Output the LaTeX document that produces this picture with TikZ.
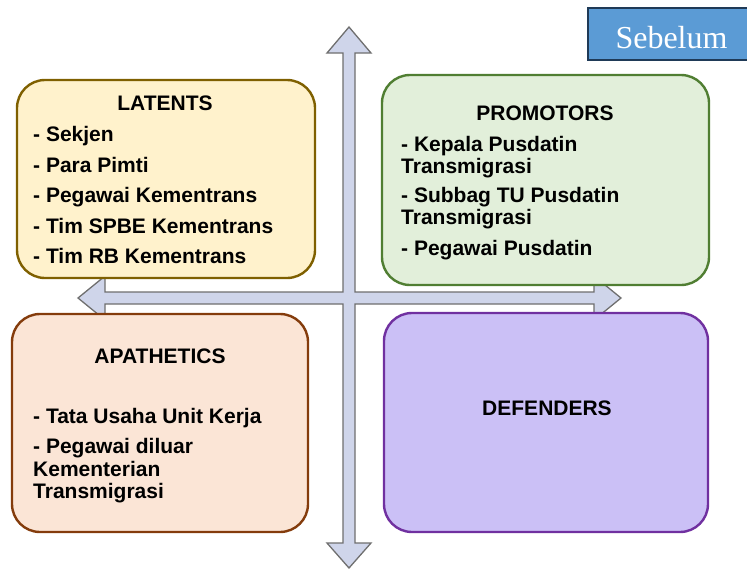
\documentclass[tikz,border=0pt]{standalone}
\usepackage{fontspec}
\setmainfont{Liberation Sans}
\newfontfamily\stagefont{Liberation Serif}
\usepackage{tikz}
\usetikzlibrary{positioning}
\definecolor{latfill}{HTML}{FFF2CC}
\definecolor{latline}{HTML}{7F6000}
\definecolor{profill}{HTML}{E2EFDA}
\definecolor{proline}{HTML}{507E32}
\definecolor{apafill}{HTML}{FBE5D6}
\definecolor{apaline}{HTML}{843C0C}
\definecolor{deffill}{HTML}{CBC0F6}
\definecolor{defline}{HTML}{7030A0}
\definecolor{arrfill}{HTML}{CFD5EA}
\definecolor{arrline}{HTML}{6F6F6F}
\definecolor{stagefill}{HTML}{5B9BD5}
\definecolor{stageline}{HTML}{1F3A57}
\tikzset{quad/.style={draw,rounded corners=28pt,line width=2.4pt,inner sep=0pt},
  head/.style={font=\fontsize{21}{22}\selectfont\bfseries,anchor=base,inner sep=0pt},
  item/.style={font=\fontsize{21}{22}\selectfont\bfseries,anchor=base west,inner sep=0pt},
  cross/.style={draw=arrline,fill=arrfill,line width=1.3pt,line join=miter}}

\begin{document}
\begin{tikzpicture}[x=1pt,y=-1pt]
\useasboundingbox (0,0) rectangle (747,570);
% axes cross behind the quadrants
\filldraw[cross] (349,27)--(371,53)--(355,53)--(355,292)--(594,292)--(594,276)--(621,298)
  --(594,320)--(594,304)--(355,304)--(355,543)--(371,543)--(349,568)--(327,543)
  --(343,543)--(343,304)--(105,304)--(105,320)--(78,298)--(105,276)--(105,292)
  --(343,292)--(343,53)--(327,53)--cycle;

\node[quad,draw=latline,fill=latfill,minimum width=298,minimum height=198] (lat) at (166,179) {};
\node[quad,draw=proline,fill=profill,minimum width=327,minimum height=210] (pro) at (545.5,180) {};
\node[quad,draw=apaline,fill=apafill,minimum width=296,minimum height=218] (apa) at (160,423) {};
\node[quad,draw=defline,fill=deffill,minimum width=324,minimum height=219] (def) at (546,422.5) {};

\node[head] (lathead) at (165,110) {LATENTS};
\foreach \y/\t [count=\i] in {141/- Sekjen,172/- Para Pimti,202/- Pegawai Kementrans,
  233/- Tim SPBE Kementrans,263/- Tim RB Kementrans}{
 \node[item] (lat\i) at (33,\y) {\t};}

\node[head] (prohead) at (545,120) {PROMOTORS};
\foreach \y/\t [count=\i] in {151/- Kepala Pusdatin,173/Transmigrasi,202/- Subbag TU Pusdatin,
  224/Transmigrasi,255/- Pegawai Pusdatin}{
 \node[item] (pro\i) at (401,\y) {\t};}

\node[head] (apahead) at (160,363) {APATHETICS};
\foreach \y/\t [count=\i] in {423/- Tata Usaha Unit Kerja,453/- Pegawai diluar,
  476/Kementerian,498/Transmigrasi}{
 \node[item] (apa\i) at (33,\y) {\t};}

\node[head] (defhead) at (547,415) {DEFENDERS};

\node[draw=stageline,fill=stagefill,line width=2pt,minimum width=167,minimum height=52,
  text=white,font=\stagefont\fontsize{32}{34}\selectfont,text height=28pt,text depth=0pt,
  inner sep=0pt] (stage) at (671.5,34) {Sebelum};
\end{tikzpicture}
\end{document}
